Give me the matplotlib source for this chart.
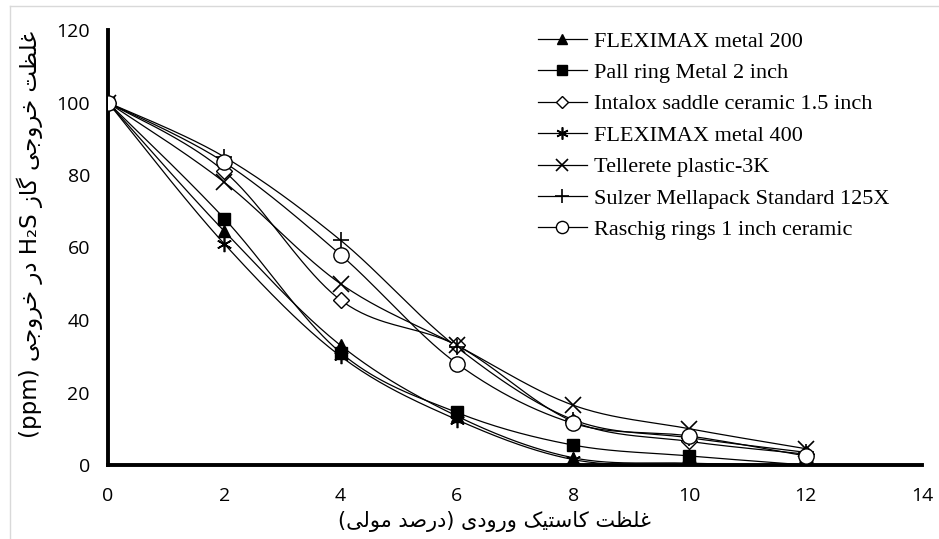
import numpy as np
import matplotlib
matplotlib.use("Agg")
import matplotlib.pyplot as plt
from matplotlib.lines import Line2D

# ---------------- data ----------------
x_values = [0, 2, 4, 6, 8, 10, 12]
series_names = [
    "FLEXIMAX metal 200",
    "Pall ring Metal 2 inch",
    "Intalox saddle ceramic 1.5 inch",
    "FLEXIMAX metal 400",
    "Tellerete plastic-3K",
    "Sulzer Mellapack Standard 125X",
    "Raschig rings 1 inch ceramic",
]
fleximax_200 = [100, 64.5, 33, 13.5, 2, 0.5, 0]
pall_ring_metal = [100, 68, 31, 14.5, 5.5, 2.5, 0]
intalox_saddle = [100, 81, 45.5, 33, 12, 6.5, 3]
fleximax_400 = [100, 61, 30, 12.5, 1.5, 0, 0]
tellerete = [100, 78, 50, 33, 16.5, 10, 4.5]
sulzer = [100, 85, 62, 32.5, 12.5, 7.5, 3.5]
raschig = [100, 83.5, 58, 28, 11.5, 8, 2.5]
x_ticks = [0, 2, 4, 6, 8, 10, 12, 14]
y_ticks = [0, 20, 40, 60, 80, 100, 120]

series_values = [fleximax_200, pall_ring_metal, intalox_saddle, fleximax_400,
                 tellerete, sulzer, raschig]

# ---------------- Arabic shaping (visual order) ----------------
AR = {
    '\u063A': ('\uFECD', '\uFECE', '\uFECF', '\uFED0'),
    '\u0644': ('\uFEDD', '\uFEDE', '\uFEDF', '\uFEE0'),
    '\u0638': ('\uFEC5', '\uFEC6', '\uFEC7', '\uFEC8'),
    '\u062A': ('\uFE95', '\uFE96', '\uFE97', '\uFE98'),
    '\u062E': ('\uFEA5', '\uFEA6', '\uFEA7', '\uFEA8'),
    '\u0631': ('\uFEAD', '\uFEAE'),
    '\u0648': ('\uFEED', '\uFEEE'),
    '\u062C': ('\uFE9D', '\uFE9E', '\uFE9F', '\uFEA0'),
    '\u06CC': ('\uFBFC', '\uFBFD', '\uFBFE', '\uFBFF'),
    '\u06AF': ('\uFB92', '\uFB93', '\uFB94', '\uFB95'),
    '\u0627': ('\uFE8D', '\uFE8E'),
    '\u0632': ('\uFEAF', '\uFEB0'),
    '\u062F': ('\uFEA9', '\uFEAA'),
    '\u06A9': ('\uFB8E', '\uFB8F', '\uFB90', '\uFB91'),
    '\u0633': ('\uFEB1', '\uFEB2', '\uFEB3', '\uFEB4'),
    '\u0635': ('\uFEB9', '\uFEBA', '\uFEBB', '\uFEBC'),
    '\u0645': ('\uFEE1', '\uFEE2', '\uFEE3', '\uFEE4'),
}


def shape(s):
    s = s.replace('\u064A', '\u06CC').replace('\u0643', '\u06A9')
    out = []
    for i, c in enumerate(s):
        if c not in AR:
            out.append(c)
            continue
        prev = s[i - 1] if i > 0 else ''
        nxt = s[i + 1] if i + 1 < len(s) else ''
        jp = prev in AR and len(AR[prev]) == 4
        jn = len(AR[c]) == 4 and nxt in AR
        f = AR[c]
        if jp and jn:
            g = f[3]
        elif jp:
            g = f[1]
        elif jn:
            g = f[2]
        else:
            g = f[0]
        out.append(g)
    return ''.join(out)


def V(s):
    return shape(s)[::-1]


ylabel_text = ("(ppm) " + V("در خروجی") + " H\u2082S " + V("گاز") + " "
               + V("غلظت خروجی"))
xlabel_text = "(" + V("درصد مولی") + ") " + V("غلظت کاستیک ورودی")


# ---------------- smoothing like Excel ----------------
def smooth(xs, ys, n=40):
    xs = np.asarray(xs, float)
    ys = np.asarray(ys, float)
    P = np.column_stack([xs, ys])
    P = np.vstack([P[0], P, P[-1]])
    out = []
    for i in range(1, len(P) - 2):
        p0, p1, p2, p3 = P[i - 1], P[i], P[i + 1], P[i + 2]
        c1 = p1 + (p2 - p0) / 6.0
        c2 = p2 - (p3 - p1) / 6.0
        t = np.linspace(0, 1, n)[:, None]
        b = ((1 - t) ** 3) * p1 + 3 * ((1 - t) ** 2) * t * c1 + 3 * (1 - t) * t ** 2 * c2 + t ** 3 * p2
        out.append(b if i == 1 else b[1:])
    out = np.vstack(out)
    return out[:, 0], out[:, 1]


# ---------------- figure ----------------
fig = plt.figure(figsize=(9.39, 5.39), dpi=100)
fig.patch.set_facecolor("white")
W, H = 939, 539
ax = fig.add_axes([108 / W, 1 - 465 / H, (922 - 108) / W, (465 - 30) / H])

styles = [
    dict(marker='^', ms=9, mfc='black', mec='black', mew=1.0),
    dict(marker='s', ms=9, mfc='black', mec='black', mew=1.0),
    dict(marker='D', ms=8, mfc='white', mec='black', mew=1.0),
    dict(marker=(6, 2, 0), ms=11, mfc='black', mec='black', mew=1.2),
    dict(marker='x', ms=11, mfc='black', mec='black', mew=1.2),
    dict(marker='+', ms=12, mfc='black', mec='black', mew=1.2),
    dict(marker='o', ms=11, mfc='white', mec='black', mew=1.0),
]

handles = []
for name, vals, st in zip(series_names, series_values, styles):
    sx, sy = smooth(x_values, vals)
    ax.plot(sx, sy, color='black', lw=0.9, zorder=2)
    ax.plot(x_values, vals, linestyle='none', zorder=3, **st)
    h_st = dict(st)
    h_st['ms'] = st['ms'] * 0.8
    handles.append(Line2D([], [], color='black', lw=0.9, label=name, **h_st))

ax.set_xlim(0, 14)
ax.set_ylim(0, 120)
ax.set_xticks(x_ticks)
ax.set_yticks(y_ticks)
for s in ['top', 'right']:
    ax.spines[s].set_visible(False)
for s in ['left', 'bottom']:
    ax.spines[s].set_linewidth(2.8)
    ax.spines[s].set_color('black')
ax.tick_params(axis='both', length=0, labelsize=14, colors='black')
ax.tick_params(axis='y', pad=13)
ax.tick_params(axis='x', pad=16)
for lab in ax.get_xticklabels() + ax.get_yticklabels():
    lab.set_family(['Open Sans', 'DejaVu Sans'])

fig.text(494 / W, 1 - 521 / H, xlabel_text, ha='center', va='center',
         fontsize=15, family=['DejaVu Sans'])
fig.text(30 / W, 1 - 234 / H, ylabel_text, ha='center', va='center',
         rotation=90, fontsize=16.5, family=['DejaVu Sans'])

leg = fig.legend(handles=handles, loc='upper left',
                 bbox_to_anchor=(538 / W, 1 - 31 / H), frameon=False,
                 prop={'family': 'Liberation Serif', 'size': 16},
                 handlelength=2.2, handletextpad=0.3, labelspacing=0.49,
                 borderpad=0, borderaxespad=0)

# light grey chart-area border
fig.add_artist(Line2D([10 / W, 1], [1 - 6 / H, 1 - 6 / H], color='#d9d9d9', lw=1.0))
fig.add_artist(Line2D([10 / W, 10 / W], [0, 1 - 6 / H], color='#d9d9d9', lw=1.0))

fig.savefig("out.png", dpi=100, facecolor='white')
